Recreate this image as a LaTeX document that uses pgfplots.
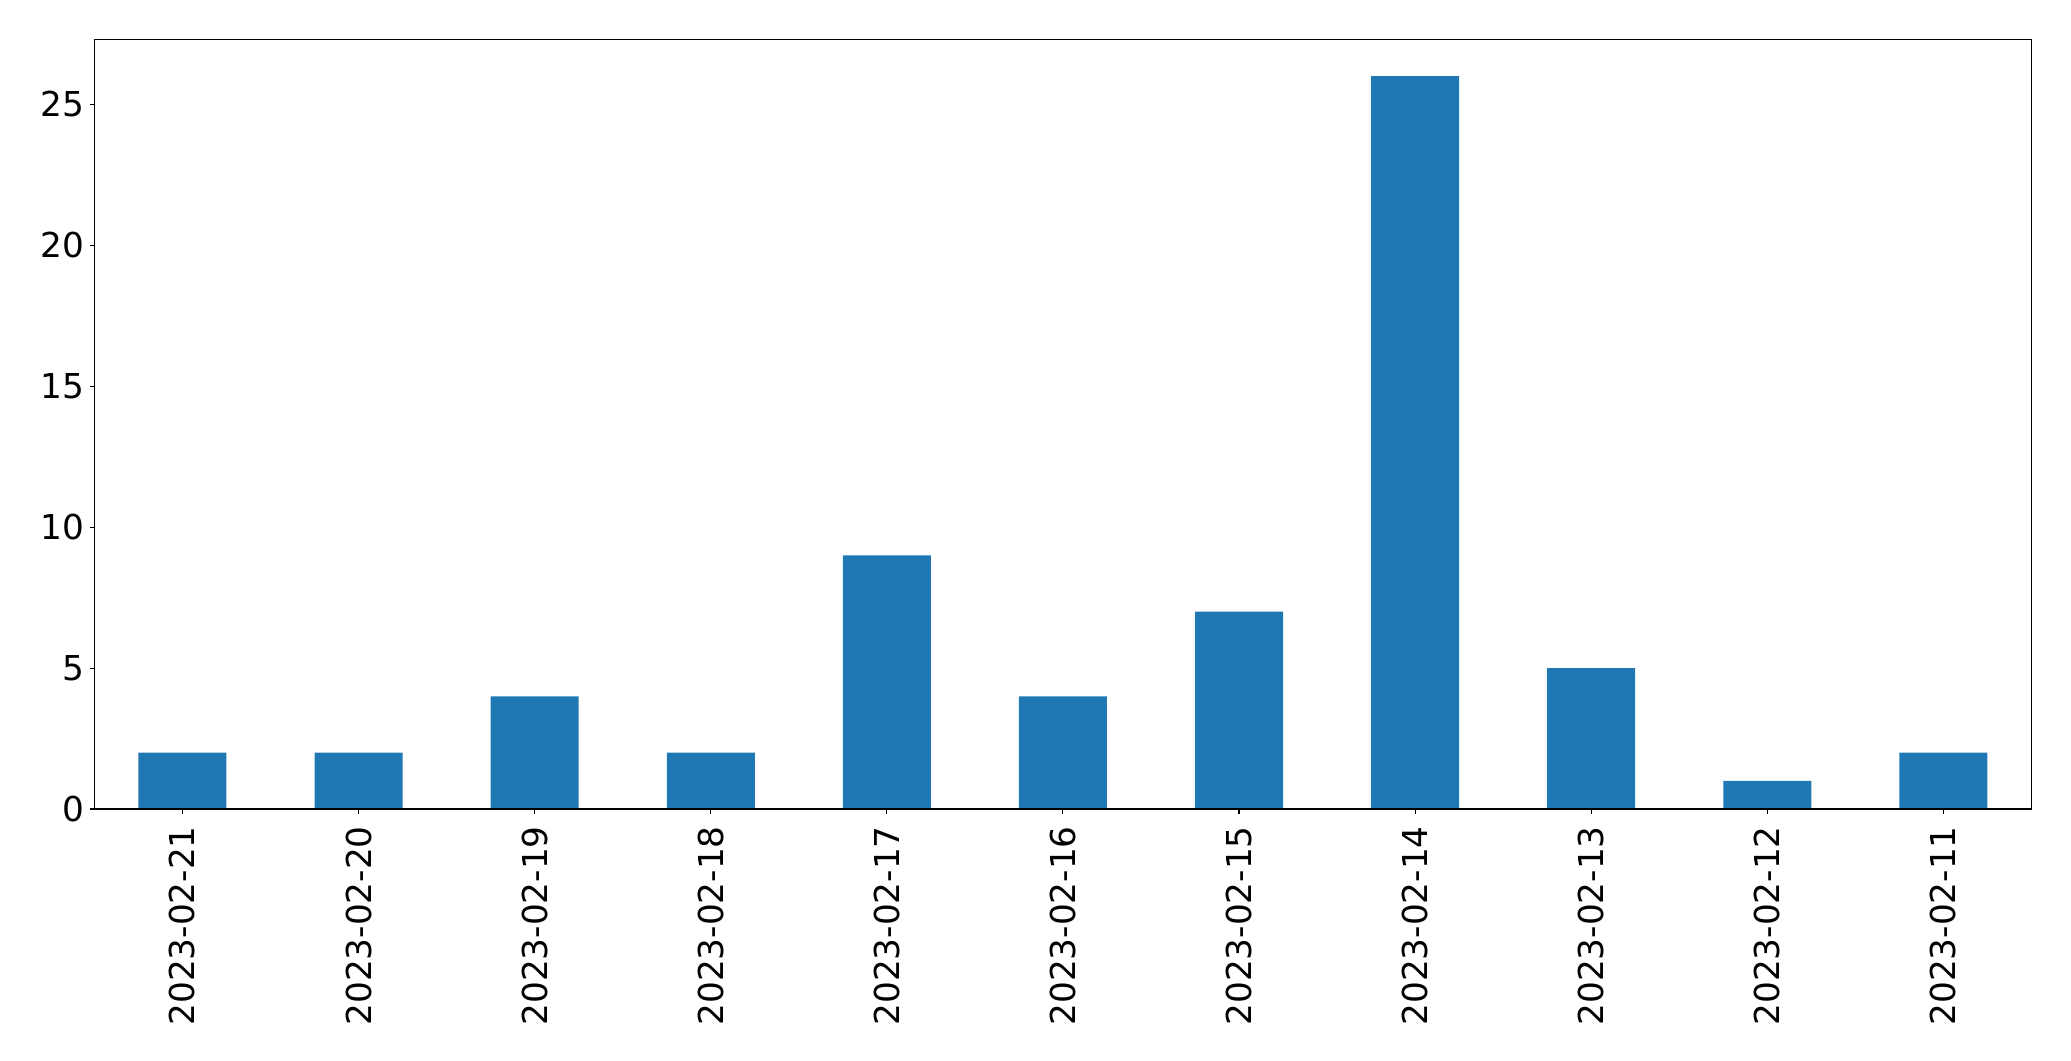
\documentclass[border=0pt]{standalone}
\usepackage{pgfplots}
\pgfplotsset{compat=1.18}
\usepackage{fontspec}
\setmainfont{DejaVu Sans}
\definecolor{mplblue}{HTML}{1F77B4}
\begin{document}
\begin{tikzpicture}
\useasboundingbox (-68.0pt,-181.4pt) rectangle (1423.1pt,582.5pt);
\begin{axis}[
  scale only axis,
  width=1394.6pt, height=554pt,
  xmin=-0.5, xmax=10.5,
  ymin=0, ymax=27.3,
  xtick={0,1,2,3,4,5,6,7,8,9,10},
  xticklabels={2023-02-21,2023-02-20,2023-02-19,2023-02-18,2023-02-17,2023-02-16,2023-02-15,2023-02-14,2023-02-13,2023-02-12,2023-02-11},
  ytick={0,5,10,15,20,25},
  tick align=outside,
  xtick pos=bottom, ytick pos=left,
  major tick length=3.5pt,
  every tick/.style={black, line width=0.8pt},
  axis line style={line width=0.8pt},
  tick label style={font=\fontsize{24.7}{29}\selectfont},
  /pgf/number format/assume math mode=true,
  x tick label style={rotate=90, anchor=east, inner sep=0pt, xshift=-8.6pt},
  y tick label style={inner sep=0pt, xshift=-3.6pt},
  axis on top,
]
\addplot[ybar, bar width=63.36pt, fill=mplblue, draw=none] coordinates {
(0,2) (1,2) (2,4) (3,2) (4,9) (5,4) (6,7) (7,26) (8,5) (9,1) (10,2)
};
\end{axis}
\end{tikzpicture}
\end{document}
